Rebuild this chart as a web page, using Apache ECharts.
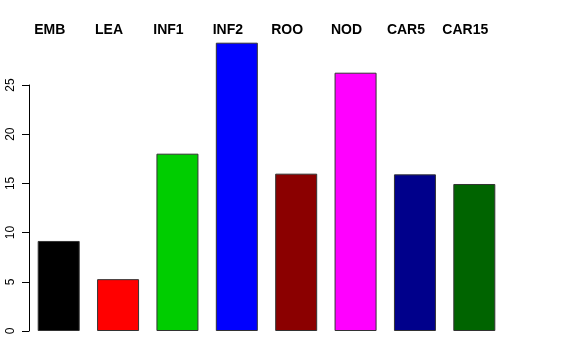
<!DOCTYPE html>
<html><head><meta charset="utf-8">
<script src="https://cdn.jsdelivr.net/npm/echarts@6/dist/echarts.min.js"></script>
<style>html,body{margin:0;padding:0;background:#fff}#c{width:576px;height:360px}</style>
</head><body><div id="c"></div>
<script>
const categories = ["EMB","LEA","INF1","INF2","ROO","NOD","CAR5","CAR15"];
const values = [9.15, 5.27, 18.02, 29.3, 15.99, 26.25, 15.92, 14.94];
const colors = ["#000000","#FF0000","#00CD00","#0000FF","#8B0000","#FF00FF","#00008B","#006400"];
const yTicks = [0,5,10,15,20,25];

const chart = echarts.init(document.getElementById('c'), null, {renderer:'canvas'});
chart.setOption({
  animation:false,
  backgroundColor:'#fff',
  grid:{left:29, right:72, top:85, bottom:29},
  xAxis:[
    {type:'category', data:categories, position:'bottom',
     axisLine:{show:false}, axisTick:{show:false}, axisLabel:{show:false}},
    {type:'category', data:categories, position:'top', offset:40,
     axisLine:{show:false}, axisTick:{show:false},
     axisLabel:{show:true, interval:0, hideOverlap:false, fontFamily:'Liberation Sans', fontWeight:'bold', fontSize:14, color:'#000', padding:[0,18,0,0], margin:8}}
  ],
  yAxis:{type:'value', min:0, max:25, interval:5,
    axisLine:{show:true, lineStyle:{color:'#000', width:1}},
    axisTick:{show:true, length:7, lineStyle:{color:'#000'}},
    splitLine:{show:false},
    axisLabel:{rotate:90, fontFamily:'Liberation Sans', fontSize:12, color:'#000', margin:12,
      formatter:function(v){return yTicks.indexOf(v)>=0?String(v):'';}}
  },
  series:[{type:'bar', xAxisIndex:0, clip:false, barWidth:42,
    data: values.map((v,i)=>({value:v, itemStyle:{color:colors[i]}})),
    itemStyle:{borderColor:'#333', borderWidth:1}
  }]
});
</script></body></html>
